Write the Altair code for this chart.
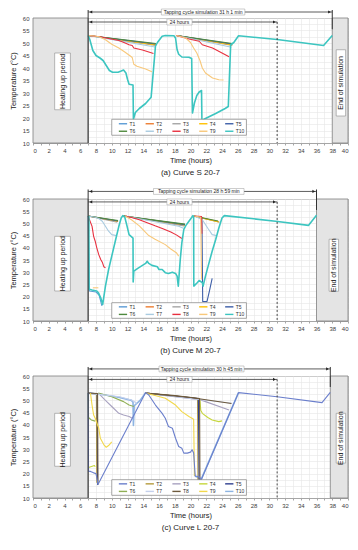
import altair as alt
import pandas as pd

SERIES = [f"T{i}" for i in range(1, 11)]
X_TICKS = list(range(0, 41, 1))
Y_TICKS = [10 + 2.5 * i for i in range(21)]
FONT = "Liberation Sans"

PAL_A = ["#5B9BD5", "#ED7D31", "#A5A5A5", "#FFC000", "#3E5FA8",
         "#4E8A3E", "#A9CBE0", "#E8303F", "#F8C87A", "#3CC5C0"]
PAL_C = ["#6B7FCC", "#B59A3C", "#A8A2C0", "#C6D63C", "#2F3F8F",
         "#8FAF55", "#C4D0EC", "#6E5A3C", "#F2D84B", "#8DB4E2"]

# ---------------- Panel (a) Curve S 20-7 ----------------
A_T1 = [[(7, 53), (15.6, 49.3)], [(18.2, 53), (25.3, 49.3)]]
A_T2 = [[(7, 53), (15.6, 49.4)], [(18.2, 53), (25.3, 49.4)]]
A_T3 = [[(7, 53), (15.6, 49.0)], [(18.2, 53), (25.3, 49.0)]]
A_T4 = [[(7, 53), (15.6, 49.2)], [(18.2, 53), (25.3, 49.2)]]
A_T5 = [[(7, 53), (15.6, 49.6)], [(18.2, 53), (25.3, 49.6)]]
A_T6 = [[(7, 53), (15.6, 49.8)], [(18.2, 53), (25.3, 49.8)]]
A_T7 = [[(7, 53), (15.5, 48.4)], [(18.2, 53), (25.2, 48.3)]]
A_T8 = [[(7, 53), (8.5, 52.5), (9.6, 51.8), (10.9, 51), (11.7, 50), (12.2, 49.3), (12.6, 49),
         (12.8, 48), (13.9, 47.2), (15.3, 45.8)],
        [(18.2, 53), (19.8, 51.6), (21.1, 50.7), (21.5, 49.3), (22.8, 48), (24.9, 44.5)]]
A_T9 = [[(7, 53), (7.8, 52.8), (8.4, 52.5), (9.2, 51.3), (10, 49.5), (10.9, 48), (11.7, 46.3),
         (12.4, 44.7), (12.6, 44.2), (12.8, 41.5), (13.2, 40.7), (14.3, 39.6), (15.1, 38.5)],
        [(18.2, 53), (19.4, 52), (20, 50.2), (20.4, 48), (20.8, 46), (21.2, 43), (21.5, 40),
         (21.9, 38), (22.8, 36), (23.6, 35.3), (24.2, 35.2)]]
A_T10 = [[(7, 53), (7.2, 51.5), (7.6, 47), (8.0, 45), (8.5, 44), (8.9, 43), (9.3, 41), (9.7, 39),
          (10.1, 38.3), (10.8, 38.3), (11.2, 38.8), (11.5, 39.2), (11.8, 38), (12.0, 35.5),
          (12.2, 33.5), (12.7, 33.2), (12.75, 19.5), (13.0, 22.2), (13.5, 23.8), (14.3, 25.8),
          (15.0, 28.3), (15.55, 48.7), (15.8, 50.2), (16.4, 52.7), (16.8, 53), (17.9, 52.9),
          (18.1, 52), (18.3, 47.3), (18.5, 45.5), (18.9, 44.4), (19.8, 44.3), (20.15, 43.8),
          (20.25, 22), (20.5, 26), (20.8, 29), (21.1, 30.4), (21.4, 31), (21.45, 19),
          (21.9, 19.8), (23.2, 21.8), (24.4, 23.8), (24.8, 24.6), (25.1, 49.3), (25.5, 50.2),
          (26.1, 52.9), (31, 51.4), (36.9, 49), (38, 53)]]

# ---------------- Panel (b) Curve M 20-7 ----------------
B_T1 = [[(7, 53), (7.15, 22.3), (8.0, 21.9), (8.4, 20.5), (8.75, 16.2)]]
B_T2 = [[(7, 53), (10.8, 50.8)], [(11.5, 53), (19.3, 49.3)], [(20.4, 53), (23.6, 50.7)]]
B_T3 = [[(7, 53), (10.7, 50.5)], [(11.5, 53), (19.2, 49.0)], [(20.4, 53), (23.7, 50.5)]]
B_T4 = [[(7, 53), (10.8, 50.9)], [(11.5, 53), (19.3, 49.4)], [(20.4, 53), (23.6, 50.6)]]
B_T5 = [[(7, 53), (10.8, 51)], [(11.5, 53), (19.3, 49.5)],
        [(20.4, 53), (21.45, 52.5), (21.55, 18), (22.1, 18), (22.45, 23), (22.75, 27.5)]]
B_T6 = [[(7, 53), (10.8, 51.2)], [(11.5, 53), (19.3, 49.7)], [(20.4, 53), (23.5, 51)]]
B_T7 = [[(7, 53), (7.9, 52.5), (8.35, 52), (8.8, 50.9), (9.2, 48.8), (9.6, 46.8), (10.0, 45.4),
         (10.6, 45)],
        [(11.7, 53), (15, 51), (18.5, 48.8), (19.1, 48)],
        [(20.5, 53), (21.5, 51.5), (22.2, 48), (22.75, 45.4), (23.3, 45)]]
B_T8 = [[(7, 53), (7.5, 48.8), (7.7, 44.7), (7.9, 42.7), (8.1, 40), (8.35, 37.2), (8.6, 35.2),
         (8.8, 34.1), (9.0, 32.2), (9.2, 31.8)],
        [(11.7, 53), (12.5, 52.4), (13.5, 51.5), (14.5, 50.3), (15.5, 49), (16.5, 47.8),
         (17.5, 46.5), (18.2, 45.3), (18.9, 43.8)],
        [(20.5, 53), (21.4, 52.8), (21.45, 45.8)]]
B_T9 = [[(7.6, 23.6), (8.3, 23.6)],
        [(11.7, 53), (12.5, 51.5), (13.5, 49), (14.7, 45), (15.5, 43.5), (16.8, 41.3),
         (17.5, 39.5), (18.2, 38), (18.5, 36.6)],
        [(20.5, 53), (21.3, 52.5), (21.4, 27)]]
B_T10 = [[(7, 53), (7.1, 52.5), (7.12, 23), (7.5, 22.7), (8.1, 22.3), (8.3, 21.6), (8.6, 19.5),
          (8.85, 16.8), (9.2, 24.3), (9.6, 31.1), (10.0, 36.6), (10.5, 43.4), (10.9, 48.8),
          (11.2, 52.2), (11.4, 53.2), (11.65, 52.6), (11.95, 48.8), (12.2, 45.4), (12.7, 44),
          (12.72, 26), (12.8, 30.4), (13.4, 31.8), (14.3, 33.6), (14.5, 34.5), (14.7, 33.6),
          (15.1, 32.8), (15.8, 32.2), (16, 31.1), (16.4, 31.1), (16.8, 29.8), (17.2, 29.5),
          (17.7, 30), (18.1, 29.5), (18.3, 28.4), (18.45, 24.3), (18.7, 35.2), (18.9, 42),
          (19.15, 47.5), (19.4, 49.1), (19.8, 50.9), (20.1, 52.2), (20.3, 53.2), (20.4, 52.5),
          (20.42, 24.3), (20.85, 25.7), (21.1, 26.6), (21.5, 25.7), (21.6, 24.3), (21.9, 28.4),
          (22.3, 33.2), (22.75, 38.6), (23.2, 43.4), (23.6, 48.1), (24.0, 52.2), (24.3, 53.2),
          (30.8, 50.9), (35, 49.2), (36, 53.3)]]

# ---------------- Panel (c) Curve L 20-7 ----------------
C_T1 = [[(7, 53), (7.05, 21), (7.3, 20.9), (7.7, 20.3), (8.0, 20.0), (8.15, 17.5), (8.25, 15.5),
         (14.3, 53.2), (14.7, 52.2), (15.55, 48.1), (16.4, 44.7), (16.8, 42.7), (17.2, 39.3),
         (17.7, 38.6), (18.1, 34.5), (18.5, 31.1), (18.9, 30.4), (19.15, 28.4), (19.6, 28.4),
         (20, 28.8), (20.2, 29.8), (20.4, 28.4), (20.6, 19), (20.85, 18.9), (21.2, 18.5),
         (21.3, 17), (26.1, 53.2), (31, 51.5), (36.7, 49.1), (37.75, 53.3)]]
C_T2 = [[(7, 53), (8.05, 52.6), (8.1, 16.2)],
        [(14.3, 53), (18, 51.8), (20.9, 50.7), (20.95, 17)]]
C_T3 = [[(8.3, 53), (9.2, 50), (10, 47.5), (10.9, 44.7), (11.5, 44), (12.2, 43.4), (12.6, 42.7)],
        [(14.3, 53), (21.2, 50.3), (22, 49.4), (24.9, 46.1)]]
C_T4 = [[(7.05, 22.5), (7.8, 23.3), (7.9, 22.8)],
        [(21.2, 50.4), (21.3, 46), (21.5, 44.7), (22.2, 43), (22.75, 42), (23.6, 41.3), (24, 41.6)]]
C_T5 = [[(7, 53), (8.15, 52.7), (8.2, 15.3)],
        [(14.3, 53), (21.0, 50.8), (21.1, 16.8)]]
C_T6 = [[(7, 53), (7.05, 43), (7.4, 42), (7.9, 41.5)],
        [(8.3, 53), (10, 51.5), (11.5, 49.5), (12.2, 48.1), (12.8, 47.5)]]
C_T7 = [[(7, 53), (11, 51.5), (12.5, 50.2), (13.2, 48.8)],
        [(14.3, 53), (20, 50.8), (25.3, 48.8)]]
C_T8 = [[(7, 53), (8.2, 52.8), (8.25, 15.5)],
        [(14.3, 53), (18, 52), (21.15, 50.8), (21.2, 16.5)],
        [(14.3, 53), (20, 51.2), (25.2, 48.7)]]
C_T9 = [[(7.3, 53), (7.5, 48), (7.7, 44), (7.9, 42.7), (8.35, 38.6), (8.55, 34.5), (9, 31.8),
         (9.3, 30.8), (9.6, 31.5), (10, 33)],
        [(14.3, 53), (16.8, 50.9), (18.1, 48.1), (18.9, 45.4), (19.8, 43.4), (20.4, 42.3),
         (20.5, 19)]]
C_T10 = [[(7, 53), (9, 52.3), (11, 51.2), (12.5, 50), (12.7, 49.3), (12.75, 39.7), (12.85, 47.8),
          (13.6, 50), (14.3, 53.2)],
         [(20.55, 19), (20.9, 18.5), (21.3, 17.2), (26.1, 53.2)]]

PANEL_A = [A_T1, A_T2, A_T3, A_T4, A_T5, A_T6, A_T7, A_T8, A_T9, A_T10]
PANEL_B = [B_T1, B_T2, B_T3, B_T4, B_T5, B_T6, B_T7, B_T8, B_T9, B_T10]
PANEL_C = [C_T10, C_T2, C_T3, C_T4, C_T5, C_T6, C_T7, C_T8, C_T9, C_T1]
ORDER_C = ["T10", "T2", "T3", "T4", "T5", "T6", "T7", "T8", "T9", "T1"]

TAP_TEXT = ["Tapping cycle simulation 31 h 1 min",
            "Tapping cycle simulation 28 h 59 min",
            "Tapping cycle simulation 30 h 45 min"]
END_X = [38, 36, 37.75]
TAP_Y = [62.4, 63.1, 62.9]
H24_Y = [58.4, 58.8, 58.6]
TAP_BOX = [(16.3, 26.9), (15.3, 26.8), (16.0, 26.8)]
H24_BOX = [(17.0, 20.2), (17.0, 20.2), (17.0, 20.2)]
HEAT_BOX = [(2.75, 4.75, 23.3, 46.0), (2.75, 4.75, 22.3, 44.7), (2.75, 4.75, 23.0, 44.7)]
END_BOX = [(38.5, 39.7, 20.8, 47.3), (37.6, 38.8, 22.2, 43.5), (38.5, 39.7, 24.3, 44.7)]
CAPTIONS = ["(a)    Curve S 20-7", "(b)    Curve M 20-7", "(c)    Curve L 20-7"]
HEIGHTS = [125, 122, 122]

# legend box (x0, x1, y0, y1) and row levels, per panel
LEG_BOX = [(10.0, 27.1, 13.1, 19.5), (10.0, 27.1, 11.1, 17.5), (10.0, 27.1, 11.1, 17.5)]
LEG_ROWS = [(17.7, 14.7), (15.8, 12.7), (15.8, 12.7)]
LEG_COLS = [10.9, 14.3, 17.7, 21.1, 24.4]


def line_rows(panel, names):
    rows = []
    for name, segs in zip(names, panel):
        for gi, seg in enumerate(segs):
            for oi, (x, y) in enumerate(seg):
                rows.append({"s": name, "g": f"{name}_{gi}", "o": oi, "x": x, "y": y,
                             "w": 1.6 if name in ("T10",) else 1.1})
    return pd.DataFrame(rows)


def build(i, panel, names, pal):
    end = END_X[i]
    h = HEIGHTS[i]
    xs = alt.Scale(domain=[0, 40], nice=False, zero=False)
    ys = alt.Scale(domain=[10, 60], nice=False, zero=False)
    cs = alt.Scale(domain=SERIES, range=pal)
    xax = alt.Axis(values=X_TICKS, labelExpr="datum.value % 2 == 0 ? datum.label : ''",
                   title="Time (hours)", grid=True, tickSize=2, labelPadding=2, titlePadding=3)
    yax = alt.Axis(values=Y_TICKS, labelExpr="datum.value % 5 == 0 ? datum.label : ''",
                   title="Temperature (°C)", grid=True, ticks=False, labelPadding=4, titlePadding=5)
    X = alt.X("x:Q", scale=xs, axis=xax)
    Y = alt.Y("y:Q", scale=ys, axis=yax)

    regions = pd.DataFrame({"x": [0, end], "x2": [7, 40], "y": [10, 10], "y2": [60, 60]})
    gray = alt.Chart(regions).mark_rect(fill="#E4E4E4", stroke="#7F7F7F", strokeWidth=0.8).encode(
        x=X, x2="x2:Q", y=Y, y2="y2:Q")

    hb, eb = HEAT_BOX[i], END_BOX[i]
    boxes = pd.DataFrame({"x": [hb[0], eb[0]], "x2": [hb[1], eb[1]],
                          "y": [hb[2], eb[2]], "y2": [hb[3], eb[3]],
                          "t": ["Heating up period", "End of simulation"],
                          "cx": [(hb[0] + hb[1]) / 2, (eb[0] + eb[1]) / 2],
                          "cy": [(hb[2] + hb[3]) / 2, (eb[2] + eb[3]) / 2]})
    wbox = alt.Chart(boxes).mark_rect(fill="white", stroke="#8C8C8C", strokeWidth=0.6).encode(
        x=X, x2="x2:Q", y=Y, y2="y2:Q")
    wtext = alt.Chart(boxes).mark_text(angle=270, fontSize=7, font=FONT, color="#222").encode(
        x=alt.X("cx:Q", scale=xs, axis=xax), y=alt.Y("cy:Q", scale=ys, axis=yax), text="t:N")

    df = line_rows(panel, names)
    lines = alt.Chart(df).mark_line(strokeJoin="round").encode(
        x=X, y=Y,
        color=alt.Color("s:N", scale=cs, legend=None),
        detail="g:N", order="o:Q",
        strokeWidth=alt.StrokeWidth("w:Q", scale=None))

    # manual legend
    lb = LEG_BOX[i]
    r1, r2 = LEG_ROWS[i]
    leg_box = pd.DataFrame({"x": [lb[0]], "x2": [lb[1]], "y": [lb[2]], "y2": [lb[3]]})
    lgb = alt.Chart(leg_box).mark_rect(fill="white", stroke="#7F7F7F", strokeWidth=0.7).encode(
        x=X, x2="x2:Q", y=Y, y2="y2:Q")
    leg = pd.DataFrame({"s": SERIES,
                        "x": [LEG_COLS[k % 5] for k in range(10)],
                        "x2": [LEG_COLS[k % 5] + 1.05 for k in range(10)],
                        "tx": [LEG_COLS[k % 5] + 1.35 for k in range(10)],
                        "y": [r1 if k < 5 else r2 for k in range(10)]})
    lgs = alt.Chart(leg).mark_rule(strokeWidth=1.4).encode(
        x=X, x2="x2:Q", y=Y, color=alt.Color("s:N", scale=cs, legend=None))
    lgt = alt.Chart(leg).mark_text(align="left", baseline="middle", fontSize=5, font=FONT,
                                   color="#333").encode(
        x=alt.X("tx:Q", scale=xs, axis=xax), y=Y, text="s:N")

    ty, hy = TAP_Y[i], H24_Y[i]
    hrules = pd.DataFrame({"x": [7, 7], "x2": [end, 31], "y": [ty, hy]})
    hr = alt.Chart(hrules).mark_rule(color="#333", strokeWidth=0.8).encode(x=X, x2="x2:Q", y=Y)
    vsolid = pd.DataFrame({"x": [7, end], "y": [ty + 0.8, ty + 0.8], "y2": [10, 55.5]})
    vs = alt.Chart(vsolid).mark_rule(color="#333", strokeWidth=1.0).encode(x=X, y=Y, y2="y2:Q")
    vdot = pd.DataFrame({"x": [31], "y": [hy], "y2": [10]})
    vd = alt.Chart(vdot).mark_rule(color="#333", strokeWidth=0.9, strokeDash=[2, 2]).encode(
        x=X, y=Y, y2="y2:Q")
    heads = pd.DataFrame({"x": [7.35, end - 0.35, 7.35, 30.65], "y": [ty, ty, hy, hy],
                          "sh": ["triangle-left", "triangle-right", "triangle-left", "triangle-right"]})
    hd = alt.Chart(heads).mark_point(filled=True, size=10, color="#222", opacity=1).encode(
        x=X, y=Y, shape=alt.Shape("sh:N", scale=None))
    tb, b24 = TAP_BOX[i], H24_BOX[i]
    tboxes = pd.DataFrame({"x": [tb[0], b24[0]], "x2": [tb[1], b24[1]],
                           "y": [ty - 1.2, hy - 1.2], "y2": [ty + 1.2, hy + 1.2],
                           "cx": [(tb[0] + tb[1]) / 2, (b24[0] + b24[1]) / 2], "cy": [ty, hy],
                           "t": [TAP_TEXT[i], "24 hours"]})
    tbr = alt.Chart(tboxes).mark_rect(fill="white", stroke="#9A9A9A", strokeWidth=0.5).encode(
        x=X, x2="x2:Q", y=Y, y2="y2:Q")
    tbt = alt.Chart(tboxes).mark_text(fontSize=5, font=FONT, color="#222").encode(
        x=alt.X("cx:Q", scale=xs, axis=xax), y=alt.Y("cy:Q", scale=ys, axis=yax), text="t:N")

    return alt.layer(gray, wbox, wtext, lines, hr, vs, vd, hd, tbr, tbt, lgb, lgs, lgt).properties(
        width=315, height=h,
        title=alt.TitleParams(CAPTIONS[i], orient="bottom", fontSize=8, fontWeight="normal",
                              font=FONT, color="#222", offset=5))


pa = build(0, PANEL_A, SERIES, PAL_A)
pb = build(1, PANEL_B, SERIES, PAL_A)
pc = build(2, PANEL_C, ORDER_C, PAL_C)

chart = alt.vconcat(pa, pb, pc, spacing=10).resolve_scale(color="independent").properties(
    padding={"left": 0, "top": 0, "right": 0, "bottom": 0}
).configure_view(stroke="#A6A6A6").configure_axis(
    labelFont=FONT, labelFontSize=6, labelColor="#404040", titleFont=FONT, titleFontSize=7.5,
    titleFontWeight="normal", titleColor="#222", gridColor="#E6E6E6", gridWidth=0.6,
    domainColor="#A6A6A6", tickColor="#A6A6A6")

chart.save("out.html", embed_options={"renderer": "svg", "actions": False})
